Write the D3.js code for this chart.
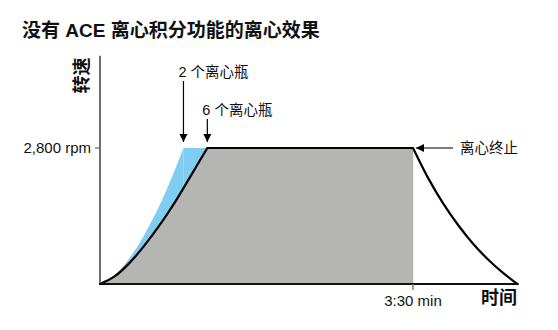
<!DOCTYPE html>
<html>
<head>
<meta charset="utf-8">
<script src="https://cdn.jsdelivr.net/npm/d3@7"></script>
<style>
  html, body { margin: 0; padding: 0; background: #fff; }
  svg { display: block; }
  text { font-family: "Liberation Sans", "Noto Sans CJK SC", sans-serif; fill: #111; }
</style>
</head>
<body>
<svg id="chart" width="558" height="330"></svg>
<script>
// ---- data ----
const title = "没有 ACE 离心积分功能的离心效果";
const yLabel = "转速";
const xLabel = "时间";
const yTickValues = [2800];
const yTickLabels = ["2,800 rpm"];
const xTickValues = [210];
const xTickLabels = ["3:30 min"];

// 2 bottles ramp-up (seconds, rpm)
const blueTime = [0, 8, 16, 24, 32, 40, 48, 56];
const blueRpm  = [0, 130, 380, 720, 1140, 1620, 2180, 2800];

// 6 bottles ramp-up
const grayTime = [0, 10, 20, 30, 40, 50, 60, 72];
const grayRpm  = [0, 160, 440, 800, 1210, 1670, 2180, 2800];

// plateau
const plateauTime = [72, 210];
const plateauRpm  = [2800, 2800];

// deceleration after stop
const decayTime = [210, 220, 230, 240, 250, 260, 270, 280];
const decayRpm  = [2800, 2190, 1670, 1225, 840, 515, 240, 0];

const annotations = [
  { label: "2 个离心瓶", time: 56 },
  { label: "6 个离心瓶", time: 72 }
];
const stopLabel = "离心终止";

const xMax = 281;
const yMax = 4700;

// ---- scales ----
const svg = d3.select("#chart");
const x = d3.scaleLinear().domain([0, 210]).range([100, 413]);
const y = d3.scaleLinear().domain([0, 2800]).range([284, 148]);

const zip = (a, b) => a.map((t, i) => [t, b[i]]);
const curveLine = d3.line().x(d => x(d[0])).y(d => y(d[1])).curve(d3.curveMonotoneX);
const curveArea = d3.area().x(d => x(d[0])).y0(y(0)).y1(d => y(d[1])).curve(d3.curveMonotoneX);
const flatArea = d3.area().x(d => x(d[0])).y0(y(0)).y1(d => y(d[1]));

const defs = svg.append("defs");
defs.append("marker")
  .attr("id", "arrow").attr("viewBox", "0 0 10 10")
  .attr("refX", 10).attr("refY", 5)
  .attr("markerWidth", 8).attr("markerHeight", 12)
  .attr("markerUnits", "userSpaceOnUse")
  .attr("orient", "auto")
  .append("path").attr("d", "M0,0 L10,5 L0,10 Z").attr("fill", "#000");

// title
svg.append("text").attr("x", 22).attr("y", 37)
  .attr("font-size", 19).attr("font-weight", "bold").text(title);

// blue area (2 bottles)
svg.append("path").datum(zip(blueTime, blueRpm))
  .attr("fill", "#7fcdf0").attr("d", curveArea);
svg.append("path").datum([[blueTime[blueTime.length - 1], 2800], [plateauTime[1], 2800]])
  .attr("fill", "#7fcdf0").attr("d", flatArea);

// gray area (6 bottles)
svg.append("path").datum(zip(grayTime, grayRpm))
  .attr("fill", "#b5b5b4").attr("d", curveArea);
svg.append("path").datum(zip(plateauTime, plateauRpm))
  .attr("fill", "#b5b5b4").attr("stroke", "#b5b5b4").attr("stroke-width", 0.5)
  .attr("d", flatArea);

// black speed curve
const lineG = svg.append("g").attr("fill", "none").attr("stroke", "#000")
  .attr("stroke-width", 2.2).attr("stroke-linejoin", "miter");
const fullPath = curveLine(zip(grayTime, grayRpm)) +
  "L" + x(plateauTime[1]) + "," + y(plateauRpm[1]) +
  curveLine(zip(decayTime, decayRpm)).replace(/^M[^A-Za-z]*/, "L" + x(decayTime[0]) + "," + y(decayRpm[0]));
lineG.append("path").attr("d", fullPath);

// y axis
svg.append("line")
  .attr("x1", x(0)).attr("x2", x(0))
  .attr("y1", y(0)).attr("y2", y(yMax))
  .attr("stroke", "#6f6f6f").attr("stroke-width", 2);
yTickValues.forEach((v, i) => {
  svg.append("line").attr("x1", x(0) - 5).attr("x2", x(0))
    .attr("y1", y(v)).attr("y2", y(v))
    .attr("stroke", "#6f6f6f").attr("stroke-width", 1.3);
  svg.append("text").attr("x", x(0) - 9).attr("y", y(v) + 5)
    .attr("text-anchor", "end").attr("font-size", 15).text(yTickLabels[i]);
});

// x axis
svg.append("line")
  .attr("x1", x(0) - 1).attr("x2", x(xMax))
  .attr("y1", y(0)).attr("y2", y(0))
  .attr("stroke", "#111").attr("stroke-width", 2.2);
xTickValues.forEach((v, i) => {
  svg.append("line").attr("x1", x(v)).attr("x2", x(v))
    .attr("y1", y(0)).attr("y2", y(0) + 6)
    .attr("stroke", "#6f6f6f").attr("stroke-width", 1.3);
  svg.append("text").attr("x", x(v)).attr("y", 306)
    .attr("text-anchor", "middle").attr("font-size", 15).text(xTickLabels[i]);
});

// axis titles
svg.append("text").attr("x", 517).attr("y", 304)
  .attr("text-anchor", "end").attr("font-size", 18).attr("font-weight", "bold").text(xLabel);
svg.append("text")
  .attr("transform", `translate(88,75.5) rotate(-90)`)
  .attr("text-anchor", "middle").attr("font-size", 18).attr("font-weight", "bold").text(yLabel);

// annotations with down arrows
const annY = [77, 115];
annotations.forEach((a, i) => {
  const ax = x(a.time);
  svg.append("line").attr("x1", ax).attr("x2", ax)
    .attr("y1", annY[i] + 4).attr("y2", y(2800) - 6)
    .attr("stroke", "#000").attr("stroke-width", 1.2)
    .attr("marker-end", "url(#arrow)");
  svg.append("text").attr("x", ax - 5).attr("y", annY[i])
    .attr("font-size", 14.5).text(a.label);
});

// stop annotation
svg.append("line")
  .attr("x1", 453).attr("x2", x(210) + 3)
  .attr("y1", y(2800)).attr("y2", y(2800))
  .attr("stroke", "#000").attr("stroke-width", 1.2)
  .attr("marker-end", "url(#arrow)");
svg.append("text").attr("x", 460).attr("y", y(2800) + 5)
  .attr("font-size", 14.5).text(stopLabel);
</script>
</body>
</html>
